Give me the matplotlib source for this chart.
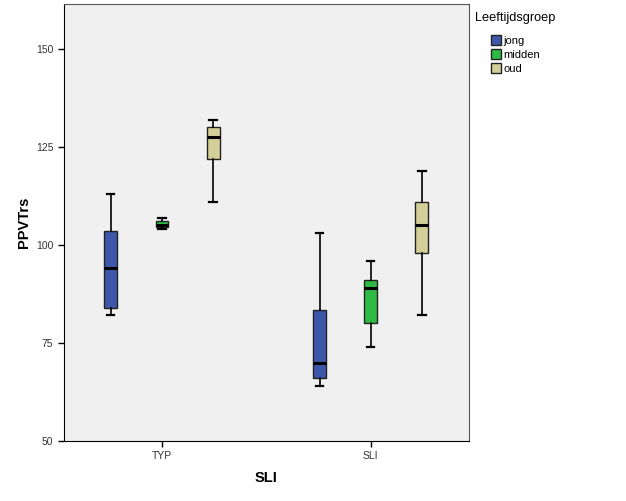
#!/usr/bin/env python3
import matplotlib.pyplot as plt
from matplotlib.patches import Patch
import numpy as np

groups = ["TYP", "SLI"]
ages = ["jong", "midden", "oud"]
colors = ["#3e57ab", "#2fba46", "#d4cf99"]

# per age group: values for TYP, SLI
whislo = {"jong": [82, 64], "midden": [104.1, 74], "oud": [111, 82]}
q1 = {"jong": [84, 66], "midden": [104.6, 80], "oud": [122, 98]}
med = {"jong": [94, 70], "midden": [105.2, 89], "oud": [127.5, 105]}
q3 = {"jong": [103.5, 83.5], "midden": [106, 91], "oud": [130, 111]}
whishi = {"jong": [113, 103], "midden": [107, 96], "oud": [132, 119]}

plt.rcParams['font.family'] = ['Liberation Sans', 'DejaVu Sans']

fig = plt.figure(figsize=(6.26, 5.01), dpi=100)
ax = fig.add_axes([0.102, 0.12, 0.647, 0.872])
ax.set_facecolor("#f0f0f0")

offsets = [-0.245, 0, 0.245]
for k, a in enumerate(ages):
    stats = []
    for i in range(len(groups)):
        stats.append({"whislo": whislo[a][i], "q1": q1[a][i], "med": med[a][i],
                      "q3": q3[a][i], "whishi": whishi[a][i], "fliers": []})
    pos = np.arange(len(groups)) + offsets[k]
    ax.bxp(stats, positions=pos, widths=0.062, patch_artist=True, showfliers=False,
           boxprops=dict(facecolor=colors[k], edgecolor="#222222", linewidth=1),
           medianprops=dict(color="black", linewidth=2.2),
           whiskerprops=dict(color="black", linewidth=1.2),
           capprops=dict(color="black", linewidth=1.6), capwidths=0.035)

ax.set_xlim(-0.47, 1.47)
ax.set_ylim(50, 161.5)
ax.set_xticks(range(len(groups)))
ax.set_xticklabels(groups)
ax.set_yticks([50, 75, 100, 125, 150])
ax.tick_params(labelsize=7.5, labelcolor="#333333", length=4, width=1)
for s in ["top", "right"]:
    ax.spines[s].set_color("#555555")
for s in ["left", "bottom"]:
    ax.spines[s].set_color("black")
ax.set_ylabel("PPVTrs", fontsize=10.5, fontweight="bold")
ax.yaxis.set_label_coords(-0.08, 0.5)
ax.set_xlabel("SLI", fontsize=10.5, fontweight="bold", labelpad=7)

fig.text(0.759, 1 - 18 / 501, "Leeftijdsgroep", fontsize=9.2, va="center", ha="left")
handles = [Patch(facecolor=c, edgecolor="#222222", label=a) for c, a in zip(colors, ages)]
leg = fig.legend(handles=handles, loc="upper left", bbox_to_anchor=(0.785, 0.93),
                 frameon=False, fontsize=8, borderpad=0, borderaxespad=0,
                 handlelength=0.9, handleheight=0.95, handletextpad=0.2,
                 labelspacing=0.3)

fig.savefig("out.png", dpi=100)
